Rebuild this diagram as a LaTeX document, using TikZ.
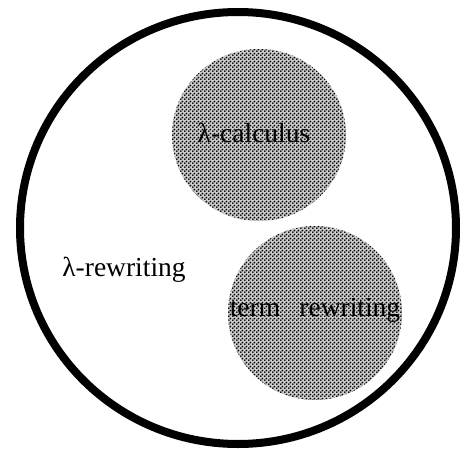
\documentclass[tikz,border=0pt]{standalone}
\usepackage{fontspec}
\setmainfont{Liberation Serif}
\usetikzlibrary{patterns}
\pgfdeclarepatternformonly{halftone}{\pgfpoint{0pt}{0pt}}{\pgfpoint{4pt}{4pt}}{\pgfpoint{4pt}{4pt}}{%
  \pgfpathcircle{\pgfpoint{1pt}{1pt}}{1.2pt}%
  \pgfpathcircle{\pgfpoint{3pt}{3pt}}{1.2pt}%
  \pgfusepath{fill}}
\tikzset{
  outer/.style={draw=black, line width=8pt},
  blob/.style={fill=black!20, postaction={pattern=halftone, pattern color=black}},
  lbl/.style={font=\fontsize{27.5}{29}\selectfont, inner sep=0pt}
}
\begin{document}
\begin{tikzpicture}[x=1pt,y=-1pt]
\useasboundingbox (0,0) rectangle (464,448);
\fill[white] (0,0) rectangle (464,448);
\draw[outer] (238,228) ellipse [x radius=218, y radius=216];
\path[blob] (259,135) ellipse [x radius=87, y radius=86];
\path[blob] (315,313) ellipse [x radius=87, y radius=87];
\node[lbl] (calc) at (254,133) {λ-calculus};
\node[lbl] (lrew) at (124,270) {λ-rewriting};
\node[lbl] (trew) at (315,310) {term\hspace{0.7em}rewriting};
\end{tikzpicture}
\end{document}
